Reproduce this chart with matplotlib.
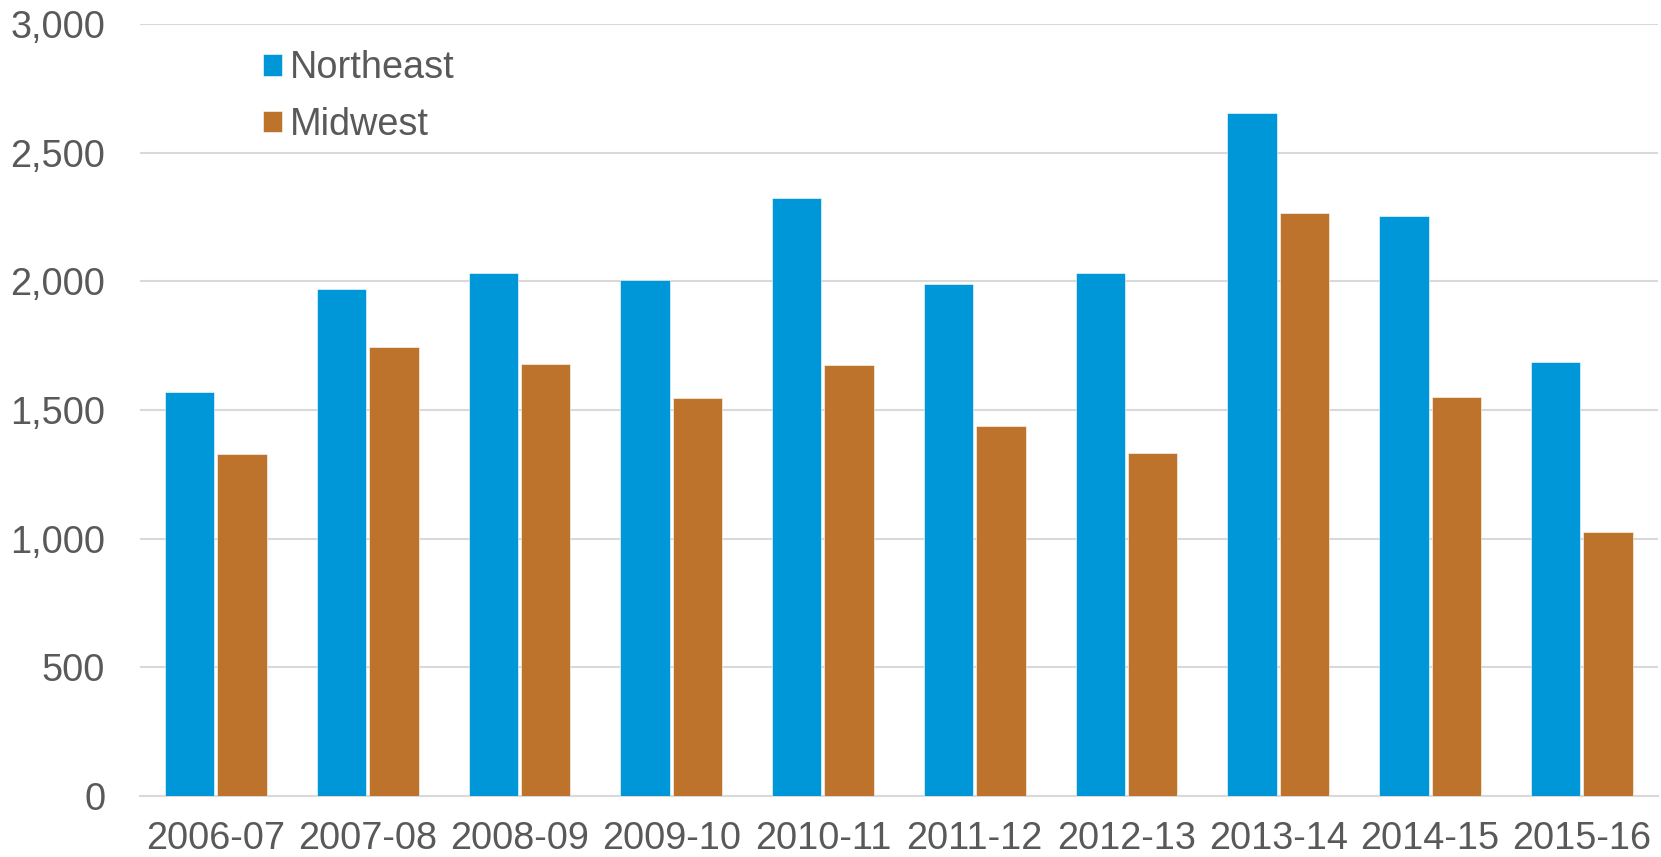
import matplotlib.pyplot as plt
import numpy as np

plt.rcParams["font.family"] = ["Liberation Sans", "DejaVu Sans"]

# Data
years = ["2006-07", "2007-08", "2008-09", "2009-10", "2010-11",
         "2011-12", "2012-13", "2013-14", "2014-15", "2015-16"]
northeast = [1570, 1969, 2031, 2005, 2323, 1991, 2031, 2654, 2254, 1686]
midwest = [1328, 1745, 1679, 1547, 1674, 1437, 1333, 2267, 1552, 1027]

blue = "#0097D8"
orange = "#BD732B"
text_grey = "#595959"
grid_grey = "#D9D9D9"

x = np.arange(len(years))
width = 0.325
offset = 0.1725

fig = plt.figure(figsize=(16.61, 8.57), dpi=100)
ax = fig.add_axes([0.0843, 0.0712, 0.9137, 0.9008])

ax.bar(x - offset, northeast, width, color=blue, label="Northeast",
       edgecolor="white", linewidth=0.4, zorder=3)
ax.bar(x + offset, midwest, width, color=orange, label="Midwest",
       edgecolor="white", linewidth=0.4, zorder=3)

ax.set_xlim(-0.5, len(years) - 0.5)
ax.set_ylim(0, 3000)
ax.set_yticks(np.arange(0, 3001, 500))
ax.set_yticklabels([f"{v:,}" for v in range(0, 3001, 500)])
ax.set_xticks(x)
ax.set_xticklabels(years)

ax.grid(axis="y", color=grid_grey, linewidth=1.5, zorder=0)
for side in ["top", "right", "left"]:
    ax.spines[side].set_visible(False)
ax.spines["bottom"].set_color(grid_grey)
ax.spines["bottom"].set_linewidth(1.5)

ax.tick_params(axis="both", length=0, labelsize=27.3, colors=text_grey)
ax.tick_params(axis="y", pad=25)
ax.tick_params(axis="x", pad=18)

ax.legend(loc="upper left", bbox_to_anchor=(0.081, 0.966), frameon=False,
          fontsize=27.3, labelcolor=text_grey, handlelength=0.5,
          handleheight=0.5, handletextpad=0.22, labelspacing=0.55,
          borderpad=0, borderaxespad=0)

fig.savefig("out.png", dpi=100)
